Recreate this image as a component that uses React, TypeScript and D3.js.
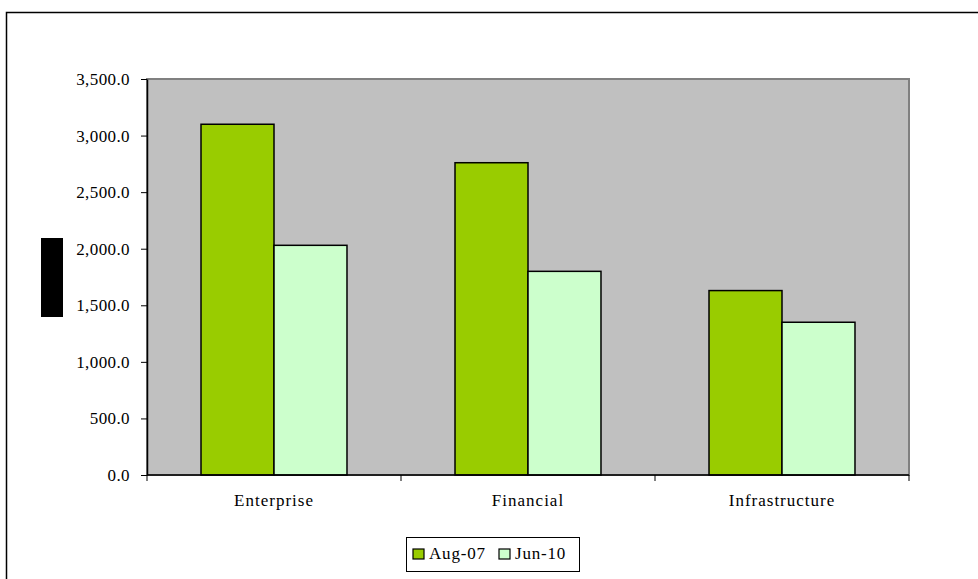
import * as d3 from "d3";
import { useEffect, useRef } from "react";

const categories = ["Enterprise", "Financial", "Infrastructure"];
const seriesNames = ["Aug-07", "Jun-10"];
const aug07 = [3100, 2760, 1630];
const jun10 = [2030, 1800, 1350];
const yTicks = [0, 500, 1000, 1500, 2000, 2500, 3000, 3500];
const colors = ["#99CC00", "#CCFFCC"];

const App = () => {
  const ref = useRef<SVGSVGElement>(null);

  useEffect(() => {
    if (!ref.current) return;
    ref.current.innerHTML = "";

    const width = 978;
    const height = 579;
    const plot = { left: 147, top: 79, right: 909, bottom: 475 };
    const font = "'Liberation Serif', 'Times New Roman', serif";
    const fs = 17;

    const svg = d3.select(ref.current)
      .attr("width", width)
      .attr("height", height)
      .style("position", "absolute")
      .style("left", "0px")
      .style("top", "0px")
      .style("font-family", font);

    // outer chart frame
    svg.append("rect")
      .attr("x", 6.5).attr("y", 12.5)
      .attr("width", width).attr("height", height)
      .attr("fill", "#fff").attr("stroke", "#000").attr("stroke-width", 1.5);

    const x = d3.scaleBand().domain(categories).range([plot.left, plot.right]);
    const xs = d3.scaleBand().domain(seriesNames)
      .range([0, x.bandwidth()]).paddingOuter(0.74);
    const y = d3.scaleLinear().domain([0, 3500]).range([plot.bottom, plot.top]);

    // plot area
    svg.append("rect")
      .attr("x", plot.left).attr("y", plot.top)
      .attr("width", plot.right - plot.left).attr("height", plot.bottom - plot.top)
      .attr("fill", "#C0C0C0").attr("stroke", "#808080").attr("stroke-width", 2);

    const data = categories.map((c, i) => ({ c, values: [aug07[i], jun10[i]] }));

    const g = svg.append("g");
    data.forEach((d) => {
      d.values.forEach((v, j) => {
        g.append("rect")
          .attr("x", x(d.c)! + xs(seriesNames[j])!)
          .attr("y", y(v))
          .attr("width", xs.bandwidth())
          .attr("height", y(0) - y(v))
          .attr("fill", colors[j])
          .attr("stroke", "#000").attr("stroke-width", 1.5);
      });
    });

    // y axis
    const yAxis = svg.append("g")
      .attr("transform", `translate(${plot.left},0)`)
      .call(d3.axisLeft(y).tickValues(yTicks).tickSize(6).tickSizeOuter(0)
        .tickFormat((d) => d3.format(",.1f")(d as number)));
    yAxis.attr("font-size", fs).attr("font-family", font);
    yAxis.select(".domain").attr("stroke", "#000").attr("stroke-width", 1.5);
    yAxis.selectAll(".tick line").attr("stroke", "#000");
    yAxis.selectAll("text")
      .attr("x", -17).attr("fill", "#000").attr("letter-spacing", 0.4);

    // x axis
    svg.append("line")
      .attr("x1", plot.left).attr("x2", plot.right)
      .attr("y1", plot.bottom).attr("y2", plot.bottom)
      .attr("stroke", "#000").attr("stroke-width", 1.5);
    const bounds = [...categories.map((c) => x(c)!), plot.right];
    svg.selectAll(".xtick").data(bounds).join("line")
      .attr("x1", (d) => d).attr("x2", (d) => d)
      .attr("y1", plot.bottom).attr("y2", plot.bottom + 6)
      .attr("stroke", "#000");
    svg.selectAll(".xlabel").data(categories).join("text")
      .attr("x", (d) => x(d)! + x.bandwidth() / 2)
      .attr("y", 506)
      .attr("text-anchor", "middle")
      .attr("font-size", fs)
      .attr("letter-spacing", 1)
      .text((d) => d);

    // axis title rendered as a black block
    svg.append("rect")
      .attr("x", 41).attr("y", 238).attr("width", 22).attr("height", 79)
      .attr("fill", "#000");

    // legend
    const legend = svg.append("g");
    legend.append("rect")
      .attr("x", 406.5).attr("y", 537.5).attr("width", 173).attr("height", 34)
      .attr("fill", "#fff").attr("stroke", "#000");
    const lx = [413, 499];
    seriesNames.forEach((s, i) => {
      legend.append("rect")
        .attr("x", lx[i]).attr("y", 549).attr("width", 11).attr("height", 10)
        .attr("fill", colors[i]).attr("stroke", "#000").attr("stroke-width", 1.2);
      legend.append("text")
        .attr("x", lx[i] + 16).attr("y", 559)
        .attr("font-size", fs).attr("letter-spacing", 0.8)
        .text(s);
    });
  }, []);

  return <svg ref={ref} />;
};

export default App;
